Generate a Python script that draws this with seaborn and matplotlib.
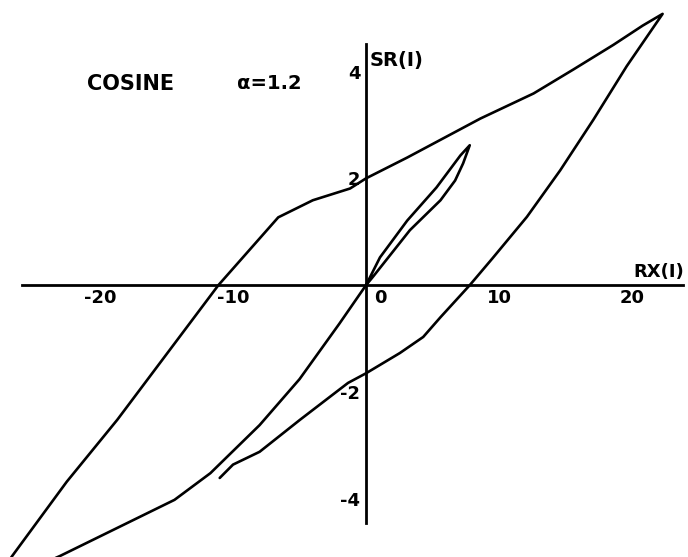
import numpy as np
import pandas as pd
import matplotlib
matplotlib.use("Agg")
import matplotlib.pyplot as plt
import seaborn as sns

# Hysteresis path RX(I) vs SR(I), cosine loading, alpha = 1.2
# Inner cycle: loading branch then unloading branch back to origin
rx_inner_load = [0.0, 0.5, 3.3, 5.6, 6.7, 7.3, 7.8]
sr_inner_load = [0.0, 0.15, 1.03, 1.59, 1.96, 2.28, 2.62]
rx_inner_unload = [7.1, 5.3, 3.1, 1.05, 0.0]
sr_inner_unload = [2.43, 1.83, 1.21, 0.52, 0.0]

# Negative excursion from origin
rx_neg = [-2.0, -5.0, -8.0, -11.7, -14.4, -23.0, -28.2]
sr_neg = [-0.72, -1.76, -2.62, -3.52, -4.02, -5.07, -5.65]

# Reloading branch up to the positive peak
rx_reload = [-26.6, -22.5, -18.7, -11.1, -6.6, -4.0, -1.2, 0.0, 3.1, 8.6, 12.6,
             15.6, 18.6, 20.8, 22.3]
sr_reload = [-5.07, -3.68, -2.52, 0.0, 1.27, 1.59, 1.81, 2.0, 2.39, 3.12, 3.59,
             4.04, 4.5, 4.86, 5.08]

# Unloading branch from the peak
rx_unload = [19.6, 17.1, 14.6, 12.1, 9.5, 7.8, 5.6, 4.3, 2.55, 0.0, -1.35,
             -4.96, -8.0, -10.0, -11.0]
sr_unload = [4.1, 3.1, 2.15, 1.28, 0.5, 0.0, -0.6, -0.97, -1.27, -1.65, -1.83,
             -2.52, -3.12, -3.36, -3.61]

rx = rx_inner_load + rx_inner_unload + rx_neg + rx_reload + rx_unload
sr = sr_inner_load + sr_inner_unload + sr_neg + sr_reload + sr_unload
df = pd.DataFrame({"step": np.arange(len(rx)), "RX": rx, "SR": sr})

x_major = [-20, -10, 0, 10, 20]
x_labels = ["-20", "-10", "0", "10", "20"]
y_major = [-4, -2, 2, 4]
y_labels = ["-4", "-2", "2", "4"]
y_minor = [-3, -1, 1, 3]

sns.set_style("white")
plt.rcParams["font.family"] = ["DejaVu Sans"]
plt.rcParams["text.color"] = "black"
plt.rcParams["xtick.color"] = "black"
plt.rcParams["ytick.color"] = "black"

fig = plt.figure(figsize=(6.88, 5.57), dpi=100)
ax = fig.add_axes([0, 0, 1, 1])

sns.lineplot(data=df, x="RX", y="SR", sort=False, estimator=None,
             color="black", linewidth=1.9, ax=ax)

ax.set_xlim(-27.52, 24.21)
ax.set_ylim(-5.09, 5.34)

# Axes crossing at the origin
for side in ("top", "right"):
    ax.spines[side].set_visible(False)
ax.spines["left"].set_position(("data", 0))
ax.spines["bottom"].set_position(("data", 0))
ax.spines["left"].set_bounds(-4.45, 4.52)
ax.spines["bottom"].set_bounds(-25.9, 23.8)
for side in ("left", "bottom"):
    ax.spines[side].set_linewidth(2.0)
    ax.spines[side].set_color("black")

ax.set_xticks(x_major)
ax.set_xticklabels(x_labels)
ax.set_yticks(y_major)
ax.set_yticklabels(y_labels)
ax.set_yticks(y_minor, minor=True)

ax.tick_params(axis="x", which="major", direction="in", length=6, width=1.5,
               pad=3, labelsize=13, colors="black")
ax.tick_params(axis="y", which="both", direction="in", length=5, width=1.5,
               pad=4, labelsize=13, colors="black")
for lab in ax.get_xticklabels() + ax.get_yticklabels():
    lab.set_fontweight("bold")
    lab.set_color("black")

# zero label sits to the right of the vertical axis
zero_lab = ax.get_xticklabels()[2]
zero_lab.set_horizontalalignment("left")
zero_lab.set_transform(zero_lab.get_transform() +
                       matplotlib.transforms.ScaledTranslation(8 / 100, 0, fig.dpi_scale_trans))

ax.set_xlabel("")
ax.set_ylabel("")

ax.text(0.3, 4.2, "SR(I)", fontsize=14, fontweight="bold", ha="left", va="center",
        color="black")
ax.text(22.0, 0.08, "RX(I)", fontsize=13, fontweight="bold", ha="center", va="bottom",
        color="black")
ax.text(-17.7, 3.77, "COSINE", fontsize=15, fontweight="bold", ha="center", va="center",
        color="black")
ax.text(-7.3, 3.77, "α=1.2", fontsize=14, fontweight="bold", ha="center", va="center",
        color="black")

fig.savefig("out.png", dpi=100)
